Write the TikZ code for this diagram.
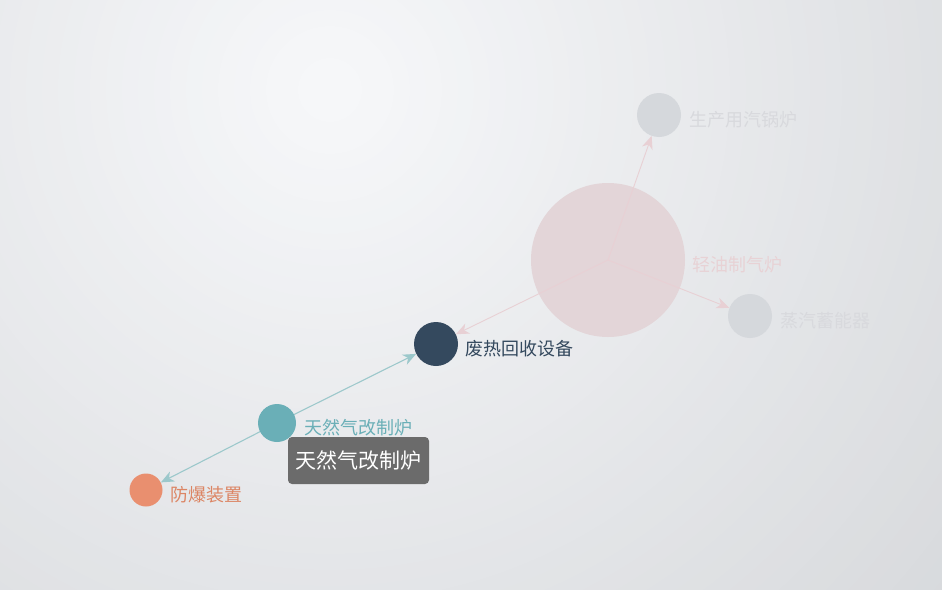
\documentclass[tikz,border=0pt]{standalone}
\usepackage{fontspec}
\setmainfont{Noto Sans CJK SC}
\usetikzlibrary{arrows.meta}
\definecolor{bgin}{HTML}{F7F8FA}
\definecolor{bgout}{HTML}{D8DADD}
\definecolor{fadegrey}{HTML}{D5D8DC}
\definecolor{fadetext}{HTML}{D8D9DD}
\definecolor{fadepink}{HTML}{E3D5D8}
\definecolor{fadepinktext}{HTML}{E8D2D5}
\definecolor{pinkedge}{HTML}{E8D0D4}
\definecolor{darknode}{HTML}{34495E}
\definecolor{tealnode}{HTML}{6AAFB7}
\definecolor{orangenode}{HTML}{E98F6F}
\definecolor{orangetext}{HTML}{DC8564}
\definecolor{tealedge}{HTML}{9CC8CB}
\definecolor{tipgrey}{HTML}{6B6B6B}
\tikzset{
  vert/.style={circle,inner sep=0pt,draw=none},
  lab/.style={anchor=west,inner sep=0pt,font=\fontsize{18}{18}\selectfont},
  edge/.style={line width=1.1pt,-{Stealth[length=13pt,width=11pt,inset=4pt]}},
}
\begin{document}
\begin{tikzpicture}[x=1pt,y=-1pt]
\useasboundingbox (0,0) rectangle (942,589);
\begin{scope}
\clip (0,0) rectangle (942,589);
\fill[bgout] (0,0) rectangle (942,589);
\foreach \i in {0,...,50}{
  \pgfmathsetmacro{\rr}{800-16*\i}
  \pgfmathsetmacro{\pp}{2*\i}
  \fill[bgin!\pp!bgout] (330,90) circle (\rr);
}
\end{scope}
% faded big node
\node[vert,fill=fadepink,minimum size=154pt] (qy) at (608,260) {};
\node[vert,fill=fadegrey,minimum size=44pt] (sc) at (659,115) {};
\node[vert,fill=fadegrey,minimum size=44pt] (zq) at (750,316) {};
\node[vert,fill=darknode,minimum size=44pt] (fr) at (436,344) {};
\node[vert,fill=orangenode,minimum size=33pt] (fb) at (146,490) {};
% edges
\draw[edge,draw=pinkedge,line width=0.9pt] (qy.center) -- (sc);
\draw[edge,draw=pinkedge,line width=0.9pt] (qy.center) -- (zq);
\draw[edge,draw=pinkedge,line width=0.9pt] (qy.center) -- (fr);
\draw[edge,draw=tealedge] (277,423) -- (fr);
\draw[edge,draw=tealedge] (277,423) -- (fb);
\node[vert,fill=tealnode,minimum size=38pt] (tr) at (277,423) {};
% labels
\node[lab,text=fadetext] (lsc) at (689,120) {生产用汽锅炉};
\node[lab,text=fadepinktext] (lqy) at (692,265) {轻油制气炉};
\node[lab,text=fadetext] (lzq) at (780,321) {蒸汽蓄能器};
\node[lab,text=darknode] (lfr) at (465,349) {废热回收设备};
\node[lab,text=tealnode] (ltr) at (304,428) {天然气改制炉};
\node[lab,text=orangetext] (lfb) at (170,495) {防爆装置};
% tooltip
\node[fill=tipgrey,rounded corners=4pt,minimum width=141pt,minimum height=47pt,inner sep=0pt,text=white,font=\fontsize{21}{21}\selectfont] (tip) at (358.5,460.5) {天然气改制炉};
\end{tikzpicture}
\end{document}
